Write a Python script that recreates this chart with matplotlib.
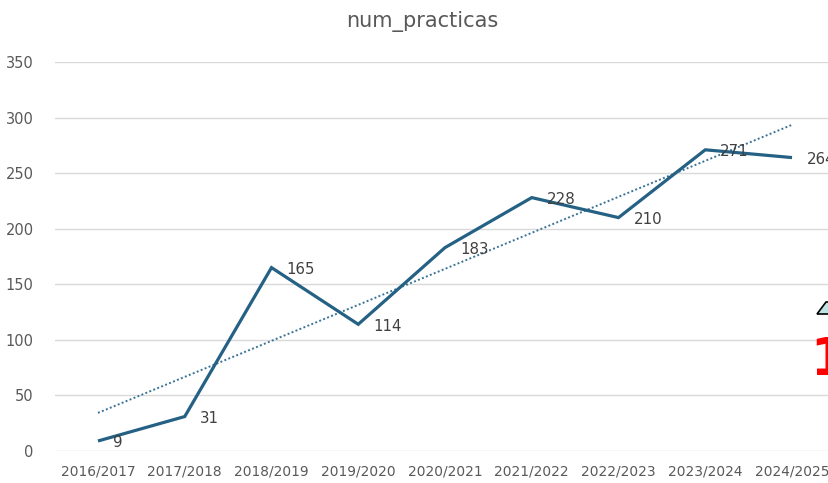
import matplotlib
matplotlib.use("Agg")
import matplotlib.pyplot as plt
from matplotlib.patches import Polygon
import numpy as np

years = ["2016/2017", "2017/2018", "2018/2019", "2019/2020", "2020/2021",
         "2021/2022", "2022/2023", "2023/2024", "2024/2025"]
num_practicas = [9, 31, 165, 114, 183, 228, 210, 271, 264]
y_ticks = [0, 50, 100, 150, 200, 250, 300, 350]

W, H = 829, 483
fig = plt.figure(figsize=(W / 100, H / 100), dpi=100)
plt.rcParams['font.family'] = ['DejaVu Sans']

left_px, right_px = 54.6, 835.4
top_px, bottom_px = 62, 451
ax = fig.add_axes([left_px / W, (H - bottom_px) / H,
                   (right_px - left_px) / W, (bottom_px - top_px) / H])

x = np.arange(len(years))
line_color = "#246184"

# trendline (linear fit)
coef = np.polyfit(x, num_practicas, 1)
ax.plot(x, np.polyval(coef, x), color="#3A7396", lw=1.4, ls=(0, (1, 1.2)), zorder=2)

ax.plot(x, num_practicas, color=line_color, lw=2.3, solid_joinstyle='miter',
        solid_capstyle='butt', zorder=3)

for xi, v in zip(x, num_practicas):
    ax.annotate(str(v), (xi, v), xytext=(15, -2), textcoords='offset pixels',
                ha='left', va='center', fontsize=10.8, color='#404040', zorder=4)

ax.set_xlim(-0.5, len(years) - 0.5)
ax.set_ylim(0, 350)
ax.set_yticks(y_ticks)
ax.set_xticks(x)
ax.set_xticklabels(years)
ax.grid(axis='y', color='#D9D9D9', lw=1)
ax.set_axisbelow(True)
for s in ax.spines.values():
    s.set_visible(False)
ax.tick_params(axis='both', length=0, colors='#595959')
ax.tick_params(axis='x', labelsize=9.9, pad=10)
ax.tick_params(axis='y', labelsize=10.5, pad=15)

fig.text(422 / W, (H - 22) / H, "num_practicas",
         ha='center', va='center', fontsize=15, color='#595959')

# partial overlay artifacts at right edge
tri = Polygon([(817 / W, (H - 314) / H), (826 / W, (H - 302) / H), (840 / W, (H - 302) / H),
               (840 / W, (H - 314) / H)], closed=True, transform=fig.transFigure,
              facecolor='#BFE3E3', edgecolor='black', lw=1.2, clip_on=False)
fig.patches.append(tri)
fig.text(810 / W, (H - 375) / H, "1", color='red', fontsize=37, fontweight='bold',
         ha='left', va='baseline')

fig.savefig("out.png", dpi=100, facecolor='white')
